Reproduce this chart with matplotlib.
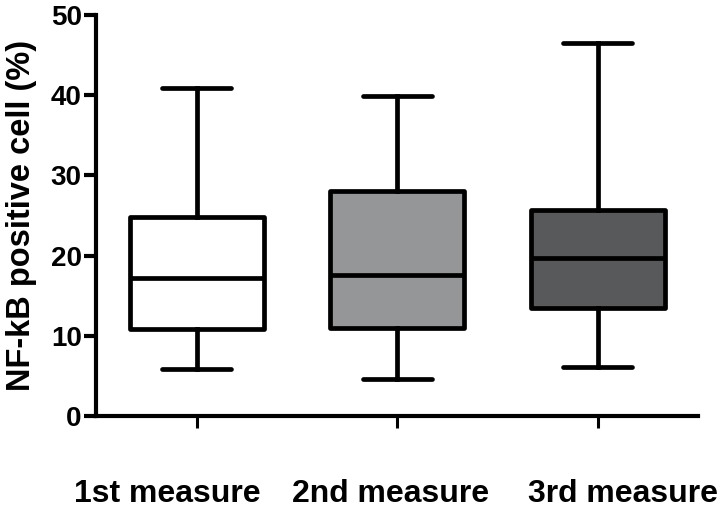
import matplotlib
matplotlib.use('Agg')
from matplotlib import pyplot as plt
from matplotlib.transforms import ScaledTranslation

# values
groups = ['1st measure', '2nd measure', '3rd measure']
whisker_low = [5.9, 4.6, 6.1]
q1 = [10.85, 11.0, 13.4]
median = [17.2, 17.6, 19.7]
q3 = [24.8, 28.05, 25.7]
whisker_high = [40.9, 39.9, 46.5]
fills = ['#ffffff', '#959697', '#58595b']

plt.rcParams['font.family'] = ['Liberation Sans', 'DejaVu Sans']
plt.rcParams['font.weight'] = 'bold'

stats = []
for i in range(len(groups)):
    stats.append({'label': groups[i], 'whislo': whisker_low[i], 'q1': q1[i],
                  'med': median[i], 'q3': q3[i], 'whishi': whisker_high[i],
                  'fliers': []})

fig = plt.figure(figsize=(7.25, 5.09), dpi=100)
ax = fig.add_axes([0.133, 0.183, 0.830, 0.7875])

lw = 3.4
bp = ax.bxp(stats, positions=[1, 2, 3], widths=0.67, capwidths=0.345,
            patch_artist=True, showfliers=False,
            boxprops=dict(linewidth=lw, edgecolor='black', joinstyle='round'),
            whiskerprops=dict(linewidth=lw, color='black'),
            capprops=dict(linewidth=lw, color='black', solid_capstyle='round'),
            medianprops=dict(linewidth=lw, color='black'))
for patch, c in zip(bp['boxes'], fills):
    patch.set_facecolor(c)

ax.set_xlim(0.5, 3.5)
ax.set_ylim(0, 50)
ax.set_yticks([0, 10, 20, 30, 40, 50])
ax.spines['top'].set_visible(False)
ax.spines['right'].set_visible(False)
ax.spines['left'].set_linewidth(3.0)
ax.spines['bottom'].set_linewidth(3.0)
ax.tick_params(axis='y', length=8.5, width=3.0, pad=2, labelsize=20)
ax.tick_params(axis='x', length=8.5, width=2.2, pad=37, labelsize=23)
ax.set_xticklabels(groups, fontweight='bold')
for lab in ax.get_yticklabels():
    lab.set_fontweight('bold')

# the category labels sit a little off their ticks in the original
label_shift = [-21, -5, 18]
for lab, dx in zip(ax.get_xticklabels(), label_shift):
    lab.set_transform(lab.get_transform() + ScaledTranslation(dx / 72, 0, fig.dpi_scale_trans))

ax.set_ylabel('NF-kB positive cell (%)', fontsize=23.5, fontweight='bold', labelpad=10)

fig.savefig('out.png', dpi=100)
